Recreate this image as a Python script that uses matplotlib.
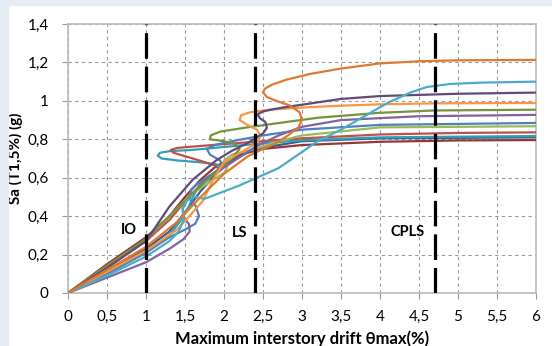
import matplotlib
matplotlib.use('Agg')
import matplotlib.pyplot as plt
from matplotlib.patches import Rectangle

plt.rcParams['font.family'] = ['Lato', 'DejaVu Sans']

# IDA curves: drift (%) and Sa (g)
x_orange_dark = [0, 0.5, 1.0, 1.4, 1.7, 2.0, 2.3, 2.5, 2.67, 2.82, 2.95, 3.0, 2.97, 2.85, 2.67, 2.55, 2.5, 2.53, 2.62, 2.8, 3.1, 3.5, 4.0, 4.5, 5.0, 6.0]
y_orange_dark = [0, 0.12, 0.24, 0.37, 0.5, 0.62, 0.71, 0.75, 0.78, 0.82, 0.86, 0.9, 0.94, 0.975, 1.0, 1.02, 1.045, 1.065, 1.085, 1.11, 1.14, 1.168, 1.195, 1.206, 1.211, 1.213]

x_cyan = [0, 0.5, 1.0, 1.3, 1.42, 1.48, 1.47, 1.52, 1.62, 1.75, 2.2, 2.7, 2.95, 3.2, 3.5, 3.8, 4.1, 4.4, 4.6, 4.9, 5.3, 6.0]
y_cyan = [0, 0.09, 0.19, 0.27, 0.32, 0.38, 0.44, 0.48, 0.5, 0.49, 0.56, 0.65, 0.72, 0.79, 0.85, 0.92, 0.99, 1.045, 1.072, 1.088, 1.095, 1.10]

x_purple_dark = [0, 0.5, 1.0, 1.3, 1.6, 1.9, 2.1, 2.3, 2.42, 2.5, 2.55, 2.53, 2.46, 2.43, 2.5, 2.65, 2.8, 3.0, 3.5, 4.0, 5.0, 6.0]
y_purple_dark = [0, 0.13, 0.27, 0.45, 0.59, 0.69, 0.74, 0.78, 0.81, 0.83, 0.86, 0.89, 0.91, 0.93, 0.945, 0.958, 0.968, 0.98, 1.01, 1.025, 1.037, 1.043]

x_orange = [0, 0.5, 1.0, 1.4, 1.6, 1.73, 1.86, 2.0, 2.25, 2.42, 2.47, 2.42, 2.3, 2.2, 2.22, 2.33, 2.6, 3.0, 3.5, 4.0, 4.7, 6.0]
y_orange = [0, 0.11, 0.22, 0.33, 0.42, 0.48, 0.59, 0.68, 0.74, 0.78, 0.82, 0.85, 0.875, 0.9, 0.925, 0.94, 0.955, 0.965, 0.975, 0.982, 0.987, 0.989]

x_olive = [0, 0.5, 1.0, 1.3, 1.6, 1.9, 2.1, 2.2, 2.15, 2.0, 1.82, 1.83, 1.95, 2.3, 2.8, 3.2, 4.0, 4.7, 6.0]
y_olive = [0, 0.14, 0.28, 0.4, 0.52, 0.63, 0.7, 0.75, 0.775, 0.79, 0.8, 0.82, 0.84, 0.862, 0.89, 0.912, 0.938, 0.95, 0.954]

x_purple = [0, 0.5, 1.0, 1.3, 1.48, 1.56, 1.55, 1.48, 1.47, 1.55, 1.8, 2.1, 2.4, 2.7, 3.0, 3.5, 4.5, 6.0]
y_purple = [0, 0.08, 0.16, 0.23, 0.28, 0.32, 0.36, 0.39, 0.44, 0.5, 0.6, 0.68, 0.76, 0.82, 0.865, 0.9, 0.92, 0.927]

x_blue = [0, 0.5, 1.0, 1.3, 1.5, 1.63, 1.68, 1.64, 1.56, 1.58, 1.7, 1.85, 1.98, 1.95, 1.82, 1.78, 1.88, 2.1, 2.5, 3.0, 4.0, 6.0]
y_blue = [0, 0.1, 0.21, 0.29, 0.33, 0.36, 0.4, 0.45, 0.5, 0.54, 0.58, 0.62, 0.66, 0.69, 0.72, 0.75, 0.77, 0.79, 0.82, 0.85, 0.875, 0.885]

x_lgreen = [0, 0.5, 1.0, 1.3, 1.6, 1.9, 2.02, 2.04, 2.0, 2.1, 2.4, 2.7, 3.0, 4.0, 6.0]
y_lgreen = [0, 0.14, 0.28, 0.4, 0.52, 0.6, 0.63, 0.66, 0.69, 0.72, 0.75, 0.79, 0.82, 0.862, 0.868]

x_red = [0, 0.5, 1.0, 1.3, 1.55, 1.75, 1.88, 1.94, 1.88, 1.6, 1.35, 1.32, 1.4, 1.6, 2.0, 2.5, 3.0, 4.0, 5.0, 6.0]
y_red = [0, 0.14, 0.27, 0.38, 0.5, 0.58, 0.62, 0.645, 0.665, 0.7, 0.73, 0.745, 0.755, 0.762, 0.775, 0.79, 0.805, 0.825, 0.833, 0.836]

x_teal = [0, 0.5, 1.0, 1.3, 1.45, 1.55, 1.6, 1.7, 1.9, 1.98, 1.9, 1.7, 1.4, 1.2, 1.15, 1.18, 1.3, 1.6, 2.0, 2.4, 3.0, 4.0, 6.0]
y_teal = [0, 0.1, 0.21, 0.3, 0.38, 0.45, 0.5, 0.57, 0.63, 0.655, 0.67, 0.68, 0.69, 0.7, 0.715, 0.73, 0.738, 0.745, 0.76, 0.775, 0.795, 0.81, 0.817]

x_blue_dark = [0, 0.5, 1.0, 1.3, 1.5, 1.7, 1.9, 2.1, 2.4, 3.0, 4.0, 6.0]
y_blue_dark = [0, 0.11, 0.23, 0.32, 0.42, 0.53, 0.62, 0.69, 0.75, 0.79, 0.805, 0.81]

x_red_dark = [0, 0.5, 1.0, 1.3, 1.5, 1.7, 1.9, 2.2, 2.5, 3.0, 4.0, 5.0, 6.0]
y_red_dark = [0, 0.15, 0.29, 0.4, 0.5, 0.59, 0.66, 0.72, 0.75, 0.77, 0.787, 0.794, 0.796]

curves = [
    (x_red_dark, y_red_dark, '#953735'),
    (x_blue_dark, y_blue_dark, '#376092'),
    (x_teal, y_teal, '#31A0B5'),
    (x_red, y_red, '#C0504D'),
    (x_lgreen, y_lgreen, '#9BBB59'),
    (x_blue, y_blue, '#4F81BD'),
    (x_purple, y_purple, '#8064A2'),
    (x_olive, y_olive, '#77933C'),
    (x_orange, y_orange, '#F79646'),
    (x_purple_dark, y_purple_dark, '#604A7B'),
    (x_cyan, y_cyan, '#4BACC6'),
    (x_orange_dark, y_orange_dark, '#E0782E'),
]

# performance levels
limit_x = [1.0, 2.4, 4.7]
limit_names = ['IO', 'LS', 'CPLS']
label_x = [0.78, 2.2, 4.35]
label_y = [0.33, 0.31, 0.32]

xticks = [0, 0.5, 1, 1.5, 2, 2.5, 3, 3.5, 4, 4.5, 5, 5.5, 6]
xtick_labels = ['0', '0,5', '1', '1,5', '2', '2,5', '3', '3,5', '4', '4,5', '5', '5,5', '6']
yticks = [0, 0.2, 0.4, 0.6, 0.8, 1.0, 1.2, 1.4]
ytick_labels = ['0', '0,2', '0,4', '0,6', '0,8', '1', '1,2', '1,4']

fig = plt.figure(figsize=(5.52, 3.46), dpi=100)
fig.patches.append(Rectangle((0, 1 - 5/346), 1, 5/346, transform=fig.transFigure, color='#E6ECF5', zorder=0))
fig.patches.append(Rectangle((0, 0), 8/552, 1, transform=fig.transFigure, color='#E6ECF5', zorder=0))
ax = fig.add_axes([68/552, 1 - 293/346, 468/552, 269/346])

for xs, ys, c in curves:
    ax.plot(xs, ys, color=c, lw=1.6, solid_joinstyle='round', solid_capstyle='round', zorder=3)

for lx in limit_x:
    ax.axvline(lx, color='black', lw=2.3, dashes=(8, 2.5), zorder=4)
for name, tx, ty in zip(limit_names, label_x, label_y):
    ax.text(tx, ty, name, ha='center', va='center', fontsize=10.5, fontweight='bold', zorder=5)

ax.set_xlim(0, 6)
ax.set_ylim(0, 1.4)
ax.set_xticks(xticks)
ax.set_xticklabels(xtick_labels)
ax.set_yticks(yticks)
ax.set_yticklabels(ytick_labels)
ax.tick_params(labelsize=11, length=4, color='#999999')
ax.tick_params(axis='x', pad=8)
ax.tick_params(axis='y', pad=10)
ax.grid(True, color='#999999', lw=0.8, dashes=(3, 3))
ax.set_axisbelow(True)
for s in ax.spines.values():
    s.set_color('#BBBBBB')
    s.set_linewidth(1.2)

ax.set_xlabel('Maximum interstory drift θmax(%)', fontsize=12, fontweight='bold', labelpad=5)
ax.set_ylabel('Sa (T1,5%) (g)', fontsize=11, fontweight='bold', labelpad=3)

fig.savefig('out.png', dpi=100)
